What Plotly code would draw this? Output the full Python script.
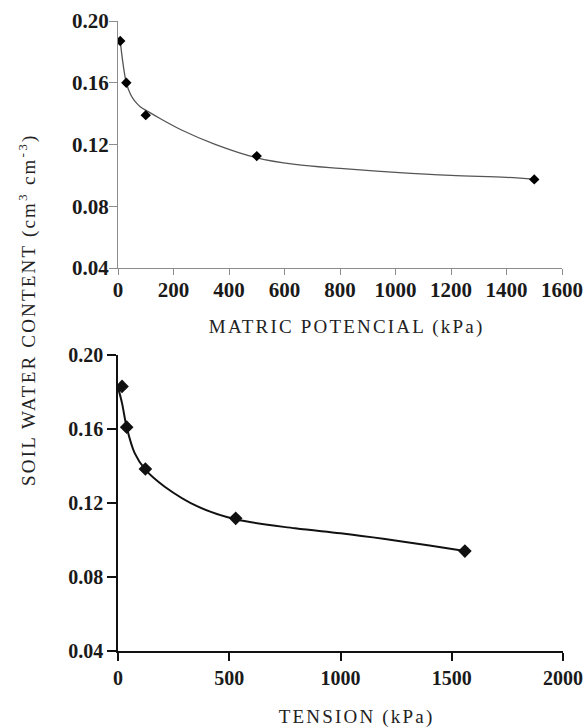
import plotly.graph_objects as go

# ---- data ----
top_x = [8, 30, 100, 500, 1500]
top_y = [0.187, 0.160, 0.139, 0.1125, 0.0974]
top_fit_x = [8, 20, 30, 45, 60, 80, 109, 150, 229, 350, 500, 638, 800, 1000, 1200, 1400, 1500]
top_fit_y = [0.187, 0.170, 0.160, 0.1525, 0.1482, 0.1445, 0.1413, 0.137, 0.1294, 0.1201, 0.1114, 0.1071, 0.1045, 0.102, 0.100, 0.0987, 0.0975]

bot_x = [18, 39, 123, 529, 1559]
bot_y = [0.183, 0.161, 0.1384, 0.1117, 0.094]
bot_fit_x = [0, 18, 39, 75, 123, 210, 360, 529, 796, 1000, 1200, 1400, 1559]
bot_fit_y = [0.1825, 0.174, 0.161, 0.147, 0.138, 0.1288, 0.118, 0.1112, 0.1063, 0.1036, 0.1005, 0.097, 0.094]

y_ticks = [0.04, 0.08, 0.12, 0.16, 0.20]
y_ticklabels = ["0.04", "0.08", "0.12", "0.16", "0.20"]
top_xticks = [0, 200, 400, 600, 800, 1000, 1200, 1400, 1600]
bot_xticks = [0, 500, 1000, 1500, 2000]

title_top_x = "MATRIC POTENCIAL (kPa)"
title_bot_x = "TENSION (kPa)"
title_y = "SOIL WATER CONTENT (cm<sup>3</sup> cm<sup>-3</sup>)"

W, H = 588, 728
FONT = "Liberation Serif"

fig = go.Figure()

fig.add_trace(go.Scatter(x=top_fit_x, y=top_fit_y, mode="lines", line=dict(color="#555555", width=1.3, shape="spline"),
                         xaxis="x", yaxis="y", showlegend=False, hoverinfo="skip"))
fig.add_trace(go.Scatter(x=top_x, y=top_y, mode="markers", marker=dict(symbol="diamond", size=8, color="#000000"),
                         xaxis="x", yaxis="y", showlegend=False))
fig.add_trace(go.Scatter(x=bot_fit_x, y=bot_fit_y, mode="lines", line=dict(color="#111111", width=2, shape="spline"),
                         xaxis="x2", yaxis="y2", showlegend=False, hoverinfo="skip"))
fig.add_trace(go.Scatter(x=bot_x, y=bot_y, mode="markers", marker=dict(symbol="diamond", size=10.5, color="#111111"),
                         xaxis="x2", yaxis="y2", showlegend=False))

def px_x(p):
    return p / W

def px_y(p):
    return (H - p) / H

tickfont_top = dict(family=FONT, size=21, color="#1a1a1a", weight="bold")
tickfont_bot = dict(family=FONT, size=20, color="#1a1a1a", weight="bold")

common_axis = dict(showgrid=False, zeroline=False, showline=True, ticks="outside", automargin=False)

fig.update_layout(
    width=W, height=H,
    autosize=False,
    margin=dict(l=0, r=0, t=0, b=0, pad=0, autoexpand=False),
    paper_bgcolor="white", plot_bgcolor="white",
    xaxis=dict(domain=[px_x(118), px_x(562)], range=[0, 1600], tickvals=top_xticks, anchor="y", tickfont=tickfont_top,
               ticklabelstandoff=-3,
               linecolor="#8c8c8c", linewidth=1.3, tickcolor="#8c8c8c", ticklen=6, tickwidth=1.3, **common_axis),
    yaxis=dict(domain=[px_y(268), px_y(21)], range=[0.04, 0.20], tickvals=y_ticks, ticktext=y_ticklabels, anchor="x",
               tickfont=tickfont_top, ticklabelstandoff=-4,
               linecolor="#8c8c8c", linewidth=1.3, tickcolor="#8c8c8c", ticklen=8, tickwidth=1.3, **common_axis),
    xaxis2=dict(domain=[px_x(118), px_x(563)], range=[0, 2000], tickvals=bot_xticks, anchor="y2", tickfont=tickfont_bot,
                linecolor="#111111", linewidth=1.5, tickcolor="#111111", ticklen=8, tickwidth=1.5, **common_axis),
    yaxis2=dict(domain=[px_y(651), px_y(355)], range=[0.04, 0.20], tickvals=y_ticks, ticktext=y_ticklabels, anchor="x2",
                tickfont=tickfont_bot,
                linecolor="#111111", linewidth=1.5, tickcolor="#111111", ticklen=9, tickwidth=1.5, **common_axis),
    annotations=[
        dict(text=title_top_x, x=px_x(346), y=px_y(327), xref="paper", yref="paper", showarrow=False,
             xanchor="center", yanchor="middle", font=dict(family=FONT, size=19, color="#222222")),
        dict(text=title_bot_x, x=px_x(356), y=px_y(717), xref="paper", yref="paper", showarrow=False,
             xanchor="center", yanchor="middle", font=dict(family=FONT, size=19, color="#222222")),
        dict(text=title_y, x=px_x(27), y=px_y(310), xref="paper", yref="paper", showarrow=False, textangle=-90,
             xanchor="center", yanchor="middle", font=dict(family=FONT, size=19, color="#222222")),
    ],
)

post = """
document.body.style.margin='0';
document.body.style.overflow='hidden';
document.querySelectorAll('.annotation-text').forEach(function(e){ e.style.letterSpacing='2.2px'; });
"""
fig.write_html("out.html", post_script=post, config={"displayModeBar": False})
